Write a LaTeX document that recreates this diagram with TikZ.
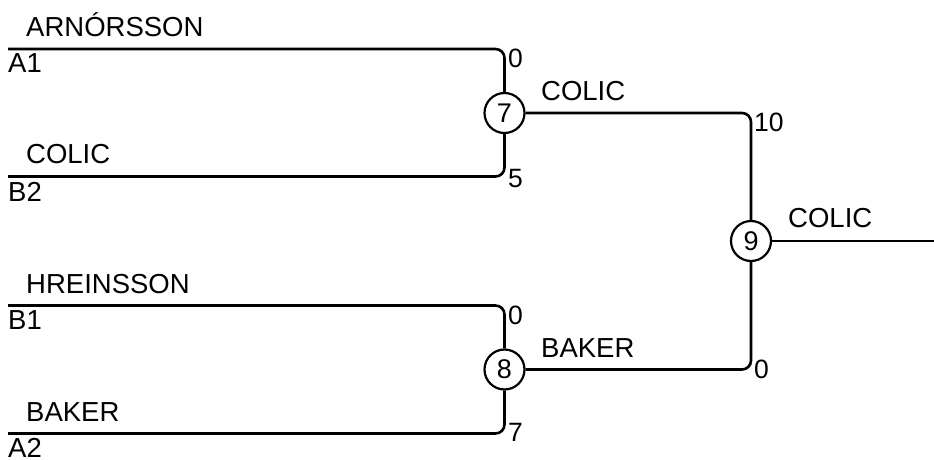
\documentclass[tikz,border=0pt]{standalone}
\usepackage{fontspec}
\setmainfont{Liberation Sans}
\begin{document}
\begin{tikzpicture}[x=1pt,y=-1pt,
  wire/.style={line width=2.6pt, rounded corners=9pt},
  circ/.style={circle, draw, line width=2.2pt, minimum size=40pt, inner sep=0pt, font=\fontsize{27}{30}\selectfont},
  lbl/.style={anchor=base west, inner sep=0pt, font=\fontsize{27.5}{30}\selectfont},
  score/.style={anchor=base west, inner sep=0pt, font=\fontsize{26.5}{28}\selectfont}]
\useasboundingbox (0,0) rectangle (934,460);
% match nodes
\node[circ] (n7) at (504.5,113) {7};
\node[circ] (n8) at (504.5,369.5) {8};
\node[circ] (n9) at (751,241) {9};
% start coordinates
\coordinate (a1) at (8,49);
\coordinate (b2) at (8,176.5);
\coordinate (b1) at (8,305.5);
\coordinate (a2) at (8,433.5);
\coordinate (out) at (934,241);
% wires
\draw[wire] (a1) -| (n7.north);
\draw[wire] (b2) -| (n7.south);
\draw[wire] (b1) -| (n8.north);
\draw[wire] (a2) -| (n8.south);
\draw[wire] (n7.east) -| (n9.north);
\draw[wire] (n8.east) -| (n9.south);
\draw[wire] (n9.east) -- (out);
% player labels
\node[lbl] (tA1) at (26,36.5) {ARNÓRSSON};
\node[lbl] (sA1) at (8,73) {A1};
\node[lbl] (tB2) at (26,163.5) {COLIC};
\node[lbl] (sB2) at (8,201.5) {B2};
\node[lbl] (tB1) at (26,293) {HREINSSON};
\node[lbl] (sB1) at (8,329.5) {B1};
\node[lbl] (tA2) at (26,421.5) {BAKER};
\node[lbl] (sA2) at (8,457.5) {A2};
% winners
\node[lbl] (w7) at (541,100.5) {COLIC};
\node[lbl] (w8) at (541,357) {BAKER};
\node[lbl] (w9) at (788,227) {COLIC};
% scores
\node[score] (s1) at (508,67.5) {0};
\node[score] (s2) at (508,187) {5};
\node[score] (s3) at (508,324) {0};
\node[score] (s4) at (508,441) {7};
\node[score] (s5) at (754,131.5) {10};
\node[score] (s6) at (754,378) {0};
\end{tikzpicture}
\end{document}
